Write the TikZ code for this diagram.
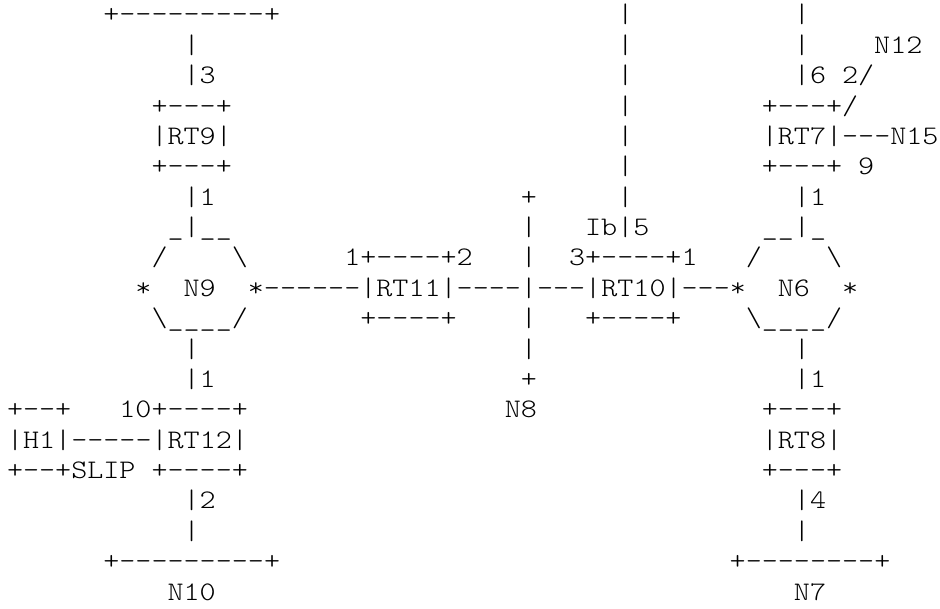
\documentclass[tikz,border=0pt]{standalone}
\usepackage{fontspec}
\setmonofont{lmmonolt10-regular}[Extension=.otf,FakeStretch=1.143]
\tikzset{asc/.style={anchor=base west,inner sep=0pt,outer sep=0pt,font=\ttfamily\fontsize{26.77pt}{30.37pt}\selectfont,text=black}}
\newcommand\asc[4]{\node[asc] (#1) at ({7+16.06*#2},{585-30.37*#3}) {#4};}
\begin{document}
\begin{tikzpicture}[x=1pt,y=1pt]
\useasboundingbox (0,0) rectangle (940,608);
% row 0
\asc{a0}{6}{0}{+---------+}
\asc{b0}{38}{0}{|}
\asc{c0}{49}{0}{|}
% row 1
\asc{a1}{11}{1}{|}
\asc{b1}{38}{1}{|}
\asc{c1}{49}{1}{|}
\asc{n12}{54}{1}{N12}
% row 2
\asc{a2}{11}{2}{|3}
\asc{b2}{38}{2}{|}
\asc{c2}{49}{2}{|6}
\asc{d2}{52}{2}{2/}
% row 3
\asc{a3}{9}{3}{+---+}
\asc{b3}{38}{3}{|}
\asc{c3}{47}{3}{+---+/}
% row 4
\asc{rt9}{9}{4}{|RT9|}
\asc{b4}{38}{4}{|}
\asc{rt7}{47}{4}{|RT7|---N15}
% row 5
\asc{a5}{9}{5}{+---+}
\asc{b5}{38}{5}{|}
\asc{c5}{47}{5}{+---+}
\asc{d5}{53}{5}{9}
% row 6
\asc{a6}{11}{6}{|1}
\asc{b6}{32}{6}{+}
\asc{c6}{38}{6}{|}
\asc{d6}{49}{6}{|1}
% row 7
\asc{a7}{10}{7}{\_|\_\_}
\asc{b7}{32}{7}{|}
\asc{c7}{36}{7}{Ib|5}
\asc{d7}{47}{7}{\_\_|\_}
% row 8
\asc{a8}{9}{8}{/}
\asc{b8}{14}{8}{\textbackslash}
\asc{c8}{21}{8}{1+----+2}
\asc{d8}{32}{8}{|}
\asc{e8}{35}{8}{3+----+1}
\asc{f8}{46}{8}{/}
\asc{g8}{51}{8}{\textbackslash}
% row 9
\asc{a9}{8}{9}{*}
\asc{n9}{11}{9}{N9}
\asc{main}{15}{9}{*------|RT11|----|---|RT10|---*}
\asc{n6}{48}{9}{N6}
\asc{b9}{52}{9}{*}
% row 10
\asc{a10}{9}{10}{\textbackslash\_\_\_\_/}
\asc{b10}{22}{10}{+----+}
\asc{c10}{32}{10}{|}
\asc{d10}{36}{10}{+----+}
\asc{e10}{46}{10}{\textbackslash\_\_\_\_/}
% row 11
\asc{a11}{11}{11}{|}
\asc{b11}{32}{11}{|}
\asc{c11}{49}{11}{|}
% row 12
\asc{a12}{11}{12}{|1}
\asc{b12}{32}{12}{+}
\asc{c12}{49}{12}{|1}
% row 13
\asc{a13}{0}{13}{+--+}
\asc{b13}{7}{13}{10+----+}
\asc{n8}{31}{13}{N8}
\asc{c13}{47}{13}{+---+}
% row 14
\asc{rt12}{0}{14}{|H1|-----|RT12|}
\asc{rt8}{47}{14}{|RT8|}
% row 15
\asc{a15}{0}{15}{+--+SLIP}
\asc{b15}{9}{15}{+----+}
\asc{c15}{47}{15}{+---+}
% row 16
\asc{a16}{11}{16}{|2}
\asc{b16}{49}{16}{|4}
% row 17
\asc{a17}{11}{17}{|}
\asc{b17}{49}{17}{|}
% row 18
\asc{a18}{6}{18}{+---------+}
\asc{b18}{45}{18}{+--------+}
% row 19
\asc{n10}{10}{19}{N10}
\asc{n7}{49}{19}{N7}
\end{tikzpicture}
\end{document}
